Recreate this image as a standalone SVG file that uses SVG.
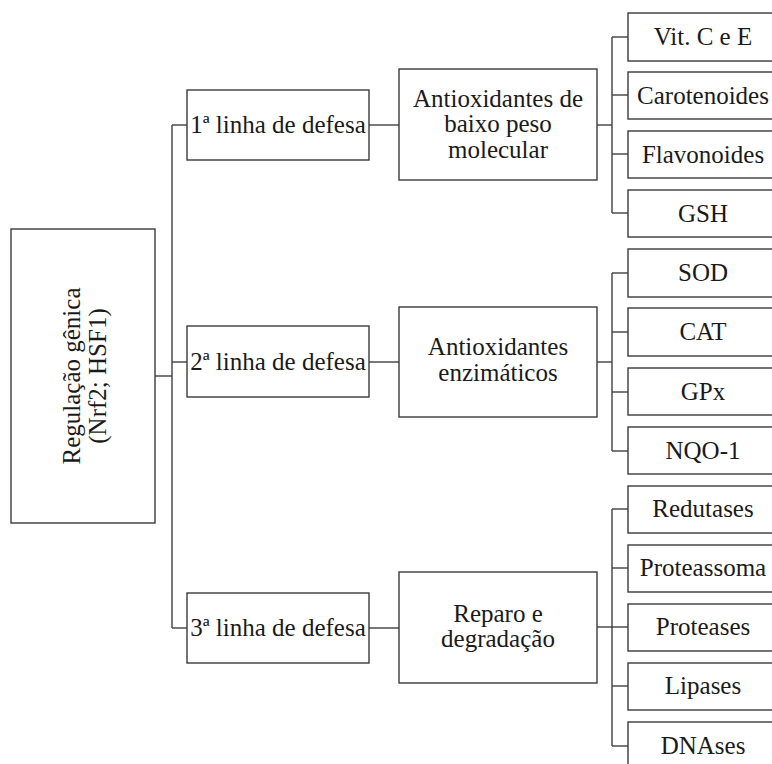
<svg xmlns="http://www.w3.org/2000/svg" width="772" height="764" viewBox="0 0 772 764">
<style>
  .box { fill: #ffffff; stroke: #3a3a3a; stroke-width: 1.4; }
  .lbl { font-family: 'Liberation Serif', serif; font-size: 25px; fill: #1a1a1a; text-anchor: middle; }
  .con line { stroke: #404040; stroke-width: 1.4; fill: none; }
</style>
<rect x="0" y="0" width="772" height="764" fill="#ffffff"/>
<g class="con" id="connectors">
  <line x1="155" y1="376" x2="172" y2="376"/>
  <line x1="172" y1="125" x2="172" y2="628"/>
  <line x1="172" y1="125" x2="187" y2="125"/>
  <line x1="172" y1="362" x2="187" y2="362"/>
  <line x1="172" y1="628" x2="187" y2="628"/>
  <line x1="369" y1="125" x2="399" y2="125"/>
  <line x1="369" y1="362" x2="399" y2="362"/>
  <line x1="369" y1="628" x2="399" y2="628"/>
  <line x1="597" y1="125" x2="612" y2="125"/>
  <line x1="597" y1="362" x2="612" y2="362"/>
  <line x1="597" y1="627" x2="612" y2="627"/>
  <line x1="612" y1="37" x2="612" y2="213"/>
  <line x1="612" y1="273" x2="612" y2="451"/>
  <line x1="612" y1="509" x2="612" y2="746"/>
  <line x1="612" y1="37" x2="628" y2="37"/>
  <line x1="612" y1="95" x2="628" y2="95"/>
  <line x1="612" y1="154" x2="628" y2="154"/>
  <line x1="612" y1="213" x2="628" y2="213"/>
  <line x1="612" y1="273" x2="628" y2="273"/>
  <line x1="612" y1="332" x2="628" y2="332"/>
  <line x1="612" y1="392" x2="628" y2="392"/>
  <line x1="612" y1="451" x2="628" y2="451"/>
  <line x1="612" y1="509" x2="628" y2="509"/>
  <line x1="612" y1="568" x2="628" y2="568"/>
  <line x1="612" y1="627" x2="628" y2="627"/>
  <line x1="612" y1="686" x2="628" y2="686"/>
  <line x1="612" y1="746" x2="628" y2="746"/>
</g>
<g id="root">
  <rect class="box" x="11" y="229" width="144" height="294"/>
  <text class="lbl" transform="translate(80,376) rotate(-90)">Regulação gênica</text>
  <text class="lbl" transform="translate(106,376) rotate(-90)">(Nrf2; HSF1)</text>
</g>
<g id="linha1">
  <rect class="box" x="187" y="90" width="182" height="70"/>
  <text class="lbl" x="278" y="133">1ª linha de defesa</text>
</g>
<g id="linha2">
  <rect class="box" x="187" y="326" width="182" height="71"/>
  <text class="lbl" x="278" y="370">2ª linha de defesa</text>
</g>
<g id="linha3">
  <rect class="box" x="187" y="593" width="182" height="70"/>
  <text class="lbl" x="278" y="636">3ª linha de defesa</text>
</g>
<g id="baixo-peso">
  <rect class="box" x="399" y="69" width="198" height="111"/>
  <text class="lbl" x="498" y="107">Antioxidantes de</text>
  <text class="lbl" x="498" y="132">baixo peso</text>
  <text class="lbl" x="498" y="158">molecular</text>
</g>
<g id="enzimaticos">
  <rect class="box" x="399" y="307" width="198" height="110"/>
  <text class="lbl" x="498" y="355">Antioxidantes</text>
  <text class="lbl" x="498" y="381">enzimáticos</text>
</g>
<g id="reparo">
  <rect class="box" x="399" y="572" width="198" height="111"/>
  <text class="lbl" x="498" y="622">Reparo e</text>
  <text class="lbl" x="498" y="647">degradação</text>
</g>
<g id="vitce">
  <rect class="box" x="628" y="13" width="150" height="48"/>
  <text class="lbl" x="703" y="45">Vit. C e E</text>
</g>
<g id="carotenoides">
  <rect class="box" x="628" y="72" width="150" height="47"/>
  <text class="lbl" x="703" y="104">Carotenoides</text>
</g>
<g id="flavonoides">
  <rect class="box" x="628" y="131" width="150" height="47"/>
  <text class="lbl" x="703" y="163">Flavonoides</text>
</g>
<g id="gsh">
  <rect class="box" x="628" y="190" width="150" height="47"/>
  <text class="lbl" x="703" y="222">GSH</text>
</g>
<g id="sod">
  <rect class="box" x="628" y="249" width="150" height="48"/>
  <text class="lbl" x="703" y="281">SOD</text>
</g>
<g id="cat">
  <rect class="box" x="628" y="308" width="150" height="48"/>
  <text class="lbl" x="703" y="340">CAT</text>
</g>
<g id="gpx">
  <rect class="box" x="628" y="368" width="150" height="47"/>
  <text class="lbl" x="703" y="400">GPx</text>
</g>
<g id="nqo1">
  <rect class="box" x="628" y="427" width="150" height="47"/>
  <text class="lbl" x="703" y="459">NQO-1</text>
</g>
<g id="redutases">
  <rect class="box" x="628" y="486" width="150" height="47"/>
  <text class="lbl" x="703" y="517">Redutases</text>
</g>
<g id="proteassoma">
  <rect class="box" x="628" y="545" width="150" height="47"/>
  <text class="lbl" x="703" y="576">Proteassoma</text>
</g>
<g id="proteases">
  <rect class="box" x="628" y="604" width="150" height="47"/>
  <text class="lbl" x="703" y="635">Proteases</text>
</g>
<g id="lipases">
  <rect class="box" x="628" y="663" width="150" height="47"/>
  <text class="lbl" x="703" y="694">Lipases</text>
</g>
<g id="dnases">
  <rect class="box" x="628" y="722" width="150" height="48"/>
  <text class="lbl" x="703" y="754">DNAses</text>
</g>
</svg>
